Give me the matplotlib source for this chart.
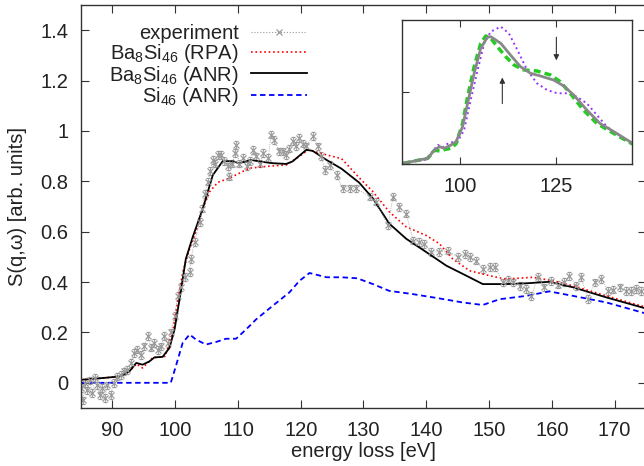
import numpy as np
import matplotlib
matplotlib.use("Agg")
import matplotlib.pyplot as plt
from matplotlib.lines import Line2D
from matplotlib.ticker import FormatStrFormatter

plt.rcParams['font.family'] = ['Liberation Sans', 'DejaVu Sans']
plt.rcParams['mathtext.default'] = 'regular'
plt.rcParams['font.size'] = 14.5

#######################################################################################
# DATA
#######################################################################################
exp_e = [85.0, 85.3, 85.6, 86.0, 86.4, 86.8, 87.2, 87.6, 88.0, 88.4, 88.8, 89.2, 89.7,
         90.2, 90.8, 91.3, 91.9, 92.4, 92.9, 93.4, 94.0, 94.5, 95.1, 95.6, 96.1, 96.6,
         97.2, 97.7, 98.2, 98.8, 99.3, 99.9, 100.4, 101.0, 101.6, 102.3, 102.5, 103.1,
         103.9, 104.3, 104.8, 105.2, 105.6, 106.0, 106.4, 106.8, 107.3, 107.8, 108.4,
         108.6, 109.1, 109.5, 109.7, 110.2, 110.8, 111.5, 112.0, 112.4, 112.9, 113.5,
         114.0, 114.8, 115.3, 115.8, 116.6, 117.1, 117.7, 118.2, 118.7, 119.2, 119.8,
         120.3, 120.9, 121.9, 122.7, 123.3, 123.8, 124.6, 125.7, 126.7, 127.8, 128.8,
         131.0, 132.0, 133.9, 134.7, 135.7, 136.8, 137.9, 138.8, 139.7, 140.8, 142.0,
         143.4, 145.0, 146.1, 147.0, 148.0, 149.0, 150.1, 150.9, 152.2, 153.0, 153.8,
         154.9, 155.9, 156.7, 157.8, 158.8, 159.9, 161.0, 162.0, 162.8, 163.9, 164.7,
         165.7, 166.8, 167.9, 168.9, 169.8, 170.8, 171.8, 172.6, 173.4, 174.2]
exp_s = [-0.02, -0.07, 0.0, -0.03, 0.01, -0.04, 0.02, -0.01, -0.05, -0.02, -0.06, -0.01, -0.048,
         0.0, 0.025, 0.03, 0.045, 0.05, 0.079, 0.119, 0.132, 0.11, 0.145, 0.185, 0.14, 0.159,
         0.13, 0.145, 0.185, 0.159, 0.2, 0.265, 0.345, 0.38, 0.42, 0.439, 0.492, 0.559,
         0.639, 0.692, 0.75, 0.799, 0.84, 0.885, 0.87, 0.905, 0.905, 0.88, 0.859,
         0.819, 0.87, 0.912, 0.945, 0.87, 0.892, 0.86, 0.88, 0.925, 0.899, 0.87,
         0.912, 0.892, 0.985, 0.965, 0.919, 0.919, 0.905, 0.93, 0.959, 0.94, 0.972,
         0.95, 0.939, 0.979, 0.939, 0.9, 0.845, 0.865, 0.825, 0.772, 0.772, 0.772,
         0.739, 0.719, 0.625, 0.739, 0.699, 0.672, 0.565, 0.56, 0.552, 0.519, 0.52,
         0.525, 0.499, 0.512, 0.5, 0.485, 0.452, 0.459, 0.459, 0.399, 0.41, 0.399,
         0.385, 0.372, 0.345, 0.419, 0.379, 0.405, 0.39, 0.4, 0.425, 0.385, 0.419,
         0.332, 0.399, 0.412, 0.365, 0.37, 0.379, 0.365, 0.365, 0.372, 0.365]
exp_err = 0.015

rpa_e = [85, 88, 91.1, 92.7, 93.8, 94.8, 96.4, 98.4, 99.6, 100.1, 101.2, 102.3, 103.3,
         104.4, 105.5, 106.8, 108.6, 110.2, 111.8, 114.5, 117.7, 119.8, 121.2, 124.1,
         126.5, 129.4, 131.5, 134.1, 136.8, 140.0, 142.1, 144.2, 146.9, 150.1, 152.7,
         157.0, 160.2, 163.4, 168.7, 175]
rpa_s = [0.01, 0.018, 0.025, 0.045, 0.075, 0.059, 0.099, 0.105, 0.199, 0.279, 0.439, 0.532, 0.599,
         0.692, 0.759, 0.796, 0.812, 0.832, 0.852, 0.859, 0.865, 0.899, 0.925, 0.905,
         0.89, 0.812, 0.759, 0.679, 0.619, 0.585, 0.552, 0.492, 0.445, 0.425, 0.412,
         0.419, 0.405, 0.385, 0.345, 0.3]

anr_e = [85, 88, 91.1, 92.7, 93.8, 94.8, 95.9, 96.7, 98.0, 99.1, 99.9, 100.7, 101.7,
         102.8, 104.4, 106.0, 107.6, 109.2, 110.2, 112.1, 113.4, 115.5, 117.7, 118.7,
         120.9, 121.9, 124.1, 126.5, 129.3, 131.5, 134.1, 136.8, 140.0, 143.2, 146.4,
         149.0, 152.7, 155.9, 159.6, 163.4, 168.7, 175]
anr_s = [0.012, 0.018, 0.025, 0.045, 0.079, 0.072, 0.085, 0.101, 0.103, 0.139, 0.212, 0.332, 0.492,
         0.579, 0.692, 0.825, 0.881, 0.879, 0.872, 0.885, 0.879, 0.872, 0.869, 0.879,
         0.925, 0.921, 0.885, 0.85, 0.795, 0.732, 0.632, 0.572, 0.519, 0.465, 0.425,
         0.392, 0.392, 0.395, 0.401, 0.379, 0.339, 0.295]

si_e = [85, 99.3, 100.1, 101.2, 102.3, 103.3, 104.9, 106.5, 108.1, 109.7, 111.3, 112.9,
        115.5, 118.2, 119.8, 121.4, 124.1, 126.5, 129.0, 131.5, 134.1, 137.9, 142.1,
        145.8, 149.0, 151.7, 155.9, 159.6, 163.4, 168.7, 175]
si_s = [0.0, 0.0, 0.065, 0.159, 0.192, 0.172, 0.152, 0.162, 0.175, 0.175, 0.212, 0.252,
        0.305, 0.359, 0.405, 0.436, 0.419, 0.419, 0.415, 0.392, 0.365, 0.352, 0.335,
        0.319, 0.309, 0.332, 0.345, 0.363, 0.345, 0.319, 0.275]

# inset curves
grey_e = [85.4, 91.7, 93.4, 94.7, 96.0, 97.7, 99.0, 100.7, 102.0, 103.7, 105.4, 107.1, 108.0,
          110.6, 113.1, 115.7, 118.3, 120.9, 124.3, 126.9, 129.5, 132.9, 136.3, 140.6, 144.7]
grey_v = [0.005, 0.04, 0.097, 0.12, 0.109, 0.132, 0.155, 0.259, 0.421, 0.63, 0.803, 0.88, 0.884,
          0.838, 0.757, 0.676, 0.63, 0.611, 0.583, 0.542, 0.479, 0.375, 0.282, 0.213, 0.144]
green_e = [85.4, 91.7, 93.4, 95.1, 96.0, 97.7, 99.0, 100.7, 102.0, 103.7, 105.4, 106.7, 108.0,
           109.7, 111.9, 114.0, 116.6, 120.0, 123.5, 126.0, 128.6, 132.0, 135.5, 139.8, 144.7]
green_v = [0.005, 0.04, 0.095, 0.09, 0.1, 0.109, 0.14, 0.282, 0.467, 0.676, 0.838, 0.889, 0.873,
           0.815, 0.745, 0.688, 0.653, 0.646, 0.618, 0.572, 0.491, 0.375, 0.282, 0.213, 0.139]
purple_e = [85.4, 91.1, 94.3, 95.6, 97.2, 99.4, 101.1, 102.8, 104.6, 106.3, 108.0, 110.6,
            112.7, 114.9, 117.4, 120.0, 122.6, 125.2, 127.8, 130.3, 132.9, 135.5, 138.1,
            141.5, 144.7]
purple_v = [0.01, 0.03, 0.132, 0.116, 0.148, 0.155, 0.236, 0.444, 0.653, 0.838, 0.919, 0.954,
            0.907, 0.792, 0.653, 0.56, 0.514, 0.491, 0.491, 0.467, 0.421, 0.34, 0.259,
            0.194, 0.144]

labels = ['experiment', r'Ba$_8$Si$_{46}$ (RPA)', r'Ba$_8$Si$_{46}$ (ANR)', r'Si$_{46}$ (ANR)']

fig = plt.figure(figsize=(6.44, 4.66), dpi=100)
ax = fig.add_axes([81 / 644, 58 / 466, 565 / 644, 403 / 466])

ax.errorbar(exp_e, exp_s, yerr=exp_err, fmt='x', color='#999999', ms=4.5, mew=0.9,
            elinewidth=0.6, capsize=1.5, ls=':', lw=0.6)
h_rpa, = ax.plot(rpa_e, rpa_s, ':', color='#ff0000', lw=1.2)
h_anr, = ax.plot(anr_e, anr_s, '-', color='black', lw=1.3)
h_si, = ax.plot(si_e, si_s, '--', color='#0000ff', lw=1.3, dashes=(3, 2))
h_exp = Line2D([], [], ls=':', lw=0.8, color='#999999', marker='x', ms=4.5, mew=0.9)

ax.set_xlim(85, 175)
ax.set_ylim(-0.1, 1.5)
ax.set_xticks(range(90, 171, 10))
ax.set_yticks([0, 0.2, 0.4, 0.6, 0.8, 1.0, 1.2, 1.4])
ax.yaxis.set_major_formatter(FormatStrFormatter('%g'))
ax.tick_params(direction='in', length=6, top=True, right=True, labelsize=14.5, pad=9,
               color='#333333', labelcolor='#222222')
for sp in ax.spines.values():
    sp.set_color('#333333')
    sp.set_linewidth(1.0)
ax.set_xlabel('energy loss [eV]', fontsize=14.5, labelpad=2, color='#222222')
ax.set_ylabel(r'S(q,ω) [arb. units]', fontsize=14.5, labelpad=10, color='#222222')

leg = ax.legend([h_exp, h_rpa, h_anr, h_si], labels,
                loc='upper right', bbox_to_anchor=(0.40, 0.952), markerfirst=False,
                frameon=False, fontsize=14.5, handlelength=2.8, handletextpad=0.6,
                labelspacing=-0.07, borderaxespad=0.0, borderpad=0.0)
for t in leg.get_texts():
    t.set_color('#222222')

# inset
ins = fig.add_axes([402 / 644, 302 / 466, 230 / 644, 144 / 466])
ins.plot(purple_e, purple_v, ':', color='#9933ff', lw=1.4)
ins.plot(green_e, green_v, '--', color='#22cc22', lw=2.5, dashes=(2, 1.2))
ins.plot(grey_e, grey_v, '-', color='#888888', lw=2.0)
ins.annotate('', xy=(125, 0.7), xytext=(125, 0.9),
             arrowprops=dict(arrowstyle='-|>', color='#333333', lw=0.8, mutation_scale=8))
ins.annotate('', xy=(111, 0.62), xytext=(111, 0.4),
             arrowprops=dict(arrowstyle='-|>', color='#333333', lw=0.8, mutation_scale=8))
ins.set_xlim(85, 144.6)
ins.set_ylim(0, 1)
ins.set_xticks([100, 125])
ins.set_yticks([0.5])
ins.set_yticklabels([])
ins.tick_params(direction='in', length=5, top=True, labelsize=14.5, pad=9, color='#333333',
                labelcolor='#222222')
for sp in ins.spines.values():
    sp.set_color('#333333')
    sp.set_linewidth(1.0)

fig.savefig('out.png', dpi=100)
